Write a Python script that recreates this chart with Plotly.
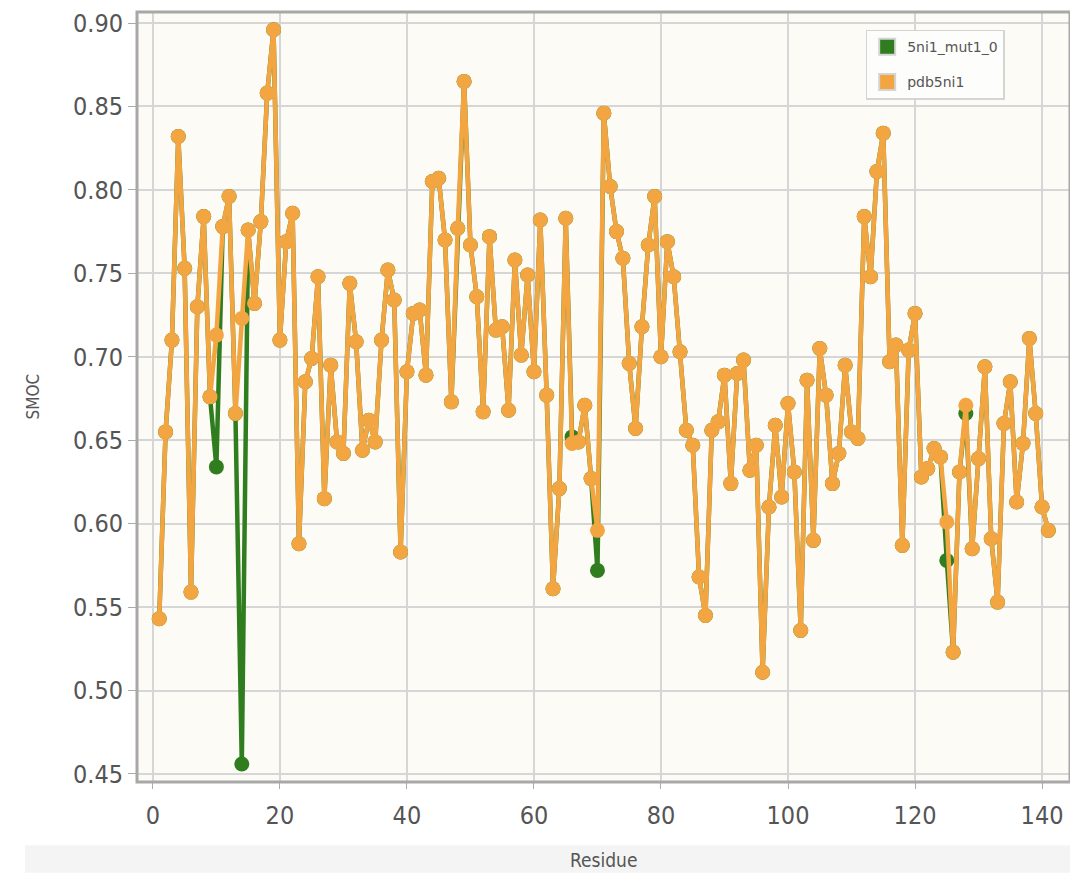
import plotly.graph_objects as go

residues = list(range(1, 142))

pdb5ni1 = [
    0.543, 0.655, 0.710, 0.832, 0.753, 0.559, 0.730, 0.784, 0.676, 0.713,
    0.778, 0.796, 0.666, 0.723, 0.776, 0.732, 0.781, 0.858, 0.896, 0.710,
    0.769, 0.786, 0.588, 0.685, 0.699, 0.748, 0.615, 0.695, 0.649, 0.642,
    0.744, 0.709, 0.644, 0.662, 0.649, 0.710, 0.752, 0.734, 0.583, 0.691,
    0.726, 0.728, 0.689, 0.805, 0.807, 0.770, 0.673, 0.777, 0.865, 0.767,
    0.736, 0.667, 0.772, 0.716, 0.718, 0.668, 0.758, 0.701, 0.749, 0.691,
    0.782, 0.677, 0.561, 0.621, 0.783, 0.648, 0.649, 0.671, 0.627, 0.596,
    0.846, 0.802, 0.775, 0.759, 0.696, 0.657, 0.718, 0.767, 0.796, 0.700,
    0.769, 0.748, 0.703, 0.656, 0.647, 0.568, 0.545, 0.656, 0.661, 0.689,
    0.624, 0.690, 0.698, 0.632, 0.647, 0.511, 0.610, 0.659, 0.616, 0.672,
    0.631, 0.536, 0.686, 0.590, 0.705, 0.677, 0.624, 0.642, 0.695, 0.655,
    0.651, 0.784, 0.748, 0.811, 0.834, 0.697, 0.707, 0.587, 0.704, 0.726,
    0.628, 0.633, 0.645, 0.640, 0.601, 0.523, 0.631, 0.671, 0.585, 0.639,
    0.694, 0.591, 0.553, 0.660, 0.685, 0.613, 0.648, 0.711, 0.666, 0.610,
    0.596,
]

# mutant: same as pdb5ni1 except at these residues
mut_changes = {10: 0.634, 14: 0.456, 66: 0.652, 70: 0.572, 125: 0.578, 128: 0.666}
mut1_0 = [mut_changes.get(r, v) for r, v in zip(residues, pdb5ni1)]

series_names = ["5ni1_mut1_0", "pdb5ni1"]
series_colors = ["#2f7d1f", "#f2a541"]

y_ticks = [0.45, 0.50, 0.55, 0.60, 0.65, 0.70, 0.75, 0.80, 0.85, 0.90]
x_ticks = [0, 20, 40, 60, 80, 100, 120, 140]

font_fam = "DejaVu Sans Condensed, DejaVu Sans, sans-serif"
txt_col = "#555555"

fig = go.Figure()
for name, ys, col in zip(series_names, [mut1_0, pdb5ni1], series_colors):
    fig.add_trace(go.Scatter(
        x=residues, y=ys, mode="lines+markers", name=name, showlegend=False,
        line=dict(color=col, width=4.5),
        marker=dict(color=col, size=15, line=dict(width=0)),
    ))
# legend swatches
for name, col in zip(series_names, series_colors):
    fig.add_trace(go.Scatter(
        x=[None], y=[None], mode="markers", name=name, legendgroup=name,
        marker=dict(symbol="square", color=col, size=19, line=dict(color="#d4d4d4", width=2)),
    ))

fig.update_layout(
    width=1070, height=865,
    margin=dict(l=129, r=8, t=4, b=91),
    paper_bgcolor="white",
    plot_bgcolor="#fcfbf5",
    font=dict(family=font_fam, color=txt_col),
    legend=dict(
        x=0.781, y=0.977, xanchor="left", yanchor="top",
        bgcolor="#fdfdfb", bordercolor="#d4d4d4", borderwidth=1.5,
        font=dict(size=14, color=txt_col, family="DejaVu Sans, sans-serif"),
        tracegroupgap=14, traceorder="grouped", itemwidth=30,
    ),
    xaxis=dict(
        range=[-2.5, 144.4], tickvals=x_ticks, showgrid=True, gridcolor="#d6d6d6", gridwidth=1.5,
        zeroline=False, ticks="outside", ticklen=6, tickcolor="#aaaaaa",
        tickfont=dict(size=25, color=txt_col), ticklabelstandoff=5,
        showline=False, automargin=False,
    ),
    yaxis=dict(
        range=[0.4452, 0.9066], tickvals=y_ticks, tickformat=".2f", showgrid=True,
        gridcolor="#d6d6d6", gridwidth=1.5, zeroline=False,
        ticks="outside", ticklen=8, tickcolor="#aaaaaa",
        tickfont=dict(size=25, color=txt_col),
        showline=False, automargin=False,
    ),
    annotations=[
        dict(text="SMOC", xref="paper", yref="paper", x=-0.112, y=0.5, xanchor="center",
             yanchor="middle", textangle=-90, showarrow=False,
             font=dict(size=17, color=txt_col)),
        dict(text="Residue", xref="paper", yref="paper", x=0.50, y=-0.101, xanchor="center",
             yanchor="middle", showarrow=False, font=dict(size=19, color=txt_col)),
    ],
    shapes=[
        dict(type="rect", xref="paper", yref="paper", x0=-0.12, x1=1.01, y0=-0.118, y1=-0.082,
             fillcolor="#f4f4f4", line=dict(width=0), layer="below"),
        dict(type="rect", xref="paper", yref="paper", x0=0, x1=1, y0=0, y1=1,
             line=dict(color="#a8a8a8", width=3), layer="above"),
    ],
)

fig.write_html("out.html")
